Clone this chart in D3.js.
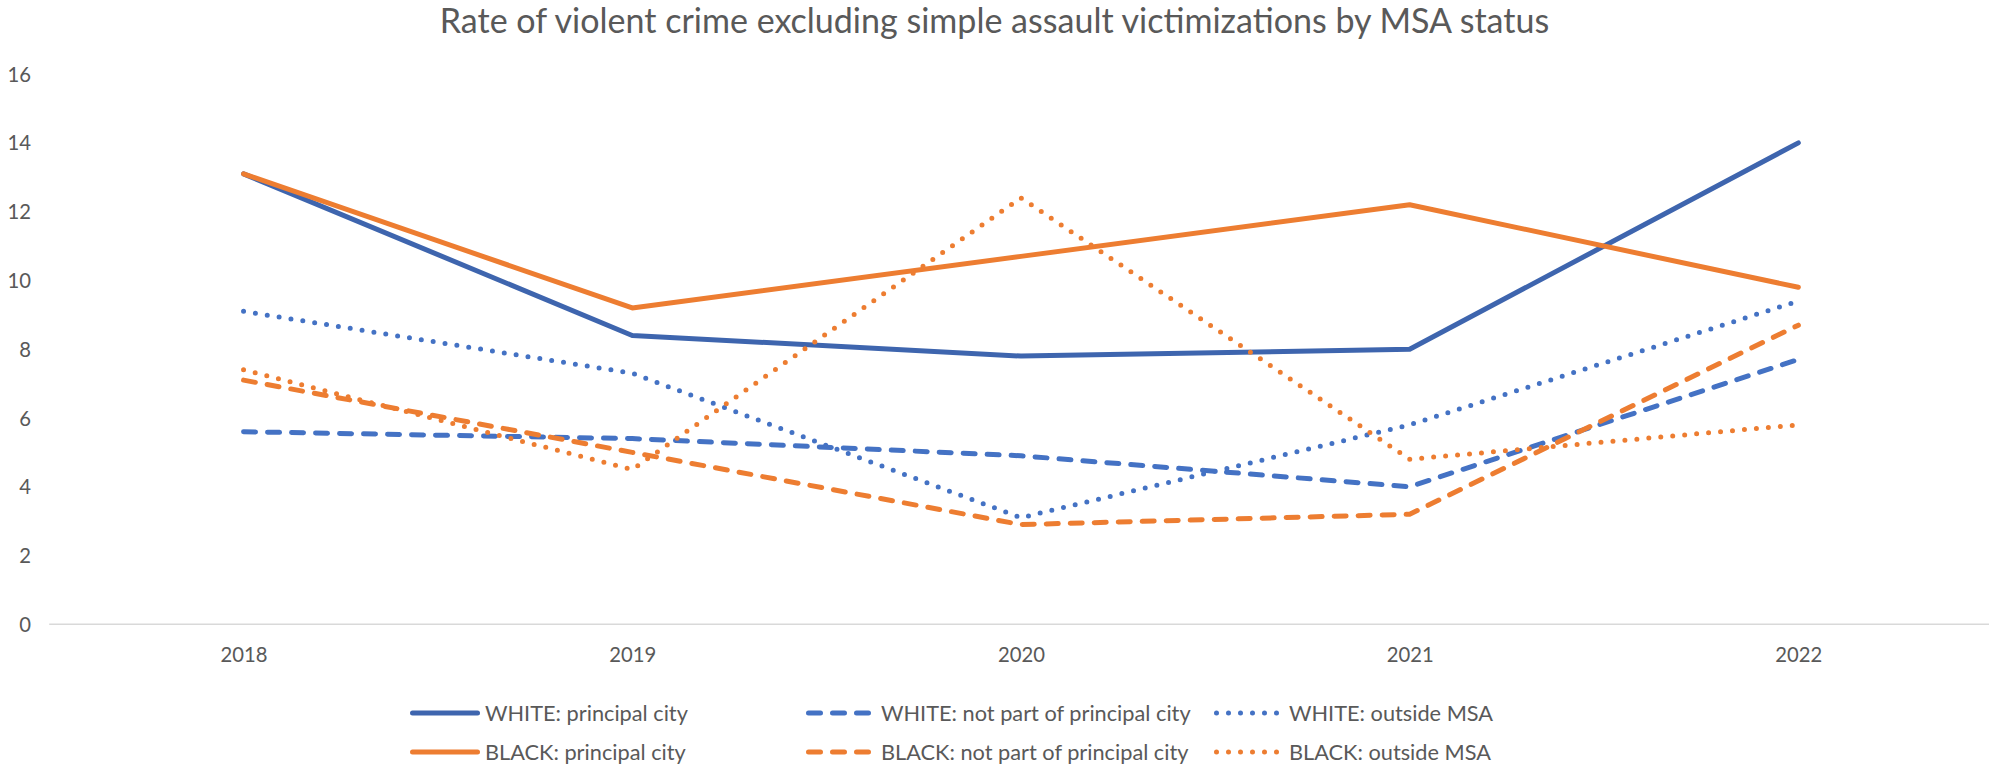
<!DOCTYPE html>
<html>
<head>
<meta charset="utf-8">
<script src="https://cdn.jsdelivr.net/npm/d3@7"></script>
<style>
  html, body { margin: 0; padding: 0; background: #ffffff; }
  svg { display: block; }
  text { font-family: Lato, "Open Sans", sans-serif; fill: #595959; }
</style>
</head>
<body>
<svg id="chart" width="1989" height="768"></svg>
<script>
// ---------- data ----------
const years = ["2018", "2019", "2020", "2021", "2022"];
const yTicks = [0, 2, 4, 6, 8, 10, 12, 14, 16];
const seriesNames = [
  "WHITE: principal city",
  "WHITE: not part of principal city",
  "WHITE: outside MSA",
  "BLACK: principal city",
  "BLACK: not part of principal city",
  "BLACK: outside MSA"
];
const whitePrincipal   = [13.1, 8.4, 7.8, 8.0, 14.0];
const whiteNotPart     = [5.6, 5.4, 4.9, 4.0, 7.7];
const whiteOutside     = [9.1, 7.3, 3.1, 5.8, 9.4];
const blackPrincipal   = [13.1, 9.2, 10.7, 12.2, 9.8];
const blackNotPart     = [7.1, 5.0, 2.9, 3.2, 8.7];
const blackOutside     = [7.4, 4.5, 12.4, 4.8, 5.8];
const titleText = "Rate of violent crime excluding simple assault victimizations by MSA status";

// ---------- styles ----------
const seriesValues = [whitePrincipal, whiteNotPart, whiteOutside, blackPrincipal, blackNotPart, blackOutside];
const styles = [
  { color: "#3E65AE", width: 5,   dash: null },
  { color: "#4472C4", width: 5,   dash: "12,12" },
  { color: "#4472C4", width: 5,   dash: "0,12" },
  { color: "#ED7D31", width: 5,   dash: null },
  { color: "#ED7D31", width: 5,   dash: "12,12" },
  { color: "#ED7D31", width: 5,   dash: "0,12" }
];

const svg = d3.select("#chart");
const W = 1989, H = 768;

// scales
const x = d3.scalePoint().domain(years).range([49.2, 1992.7]).padding(0.5);
const y = d3.scaleLinear().domain([0, 16]).range([624.3, 74.1]);

// helper to fit text width
function fitFont(sel, target) {
  const base = parseFloat(sel.style("font-size"));
  const w = sel.node().getComputedTextLength();
  return base * target / w;
}

// measure font sizes
const probe = svg.append("text").style("font-size", "24px").text("2018");
const tickFont = fitFont(probe, 47);
probe.style("font-size", "24px").text("WHITE: principal city");
const legendFont = fitFont(probe, 203);
probe.style("font-size", "30px").text(titleText);
const titleFont = fitFont(probe, 1110);
probe.remove();

// title
svg.append("text")
  .attr("x", W / 2)
  .attr("y", 33)
  .attr("text-anchor", "middle")
  .style("font-size", titleFont + "px")
  .text(titleText);

// baseline axis line
svg.append("line")
  .attr("x1", 49.2).attr("x2", 1992.7)
  .attr("y1", y(0)).attr("y2", y(0))
  .attr("stroke", "#D9D9D9").attr("stroke-width", 1.5);

// y axis labels
const yAxis = d3.axisLeft(y).tickValues(yTicks).tickSize(0).tickPadding(0);
const gy = svg.append("g").attr("transform", "translate(31,0)").call(yAxis);
gy.select(".domain").remove();
gy.selectAll("text")
  .attr("x", 0).attr("dy", "0.35em")
  .style("font-size", tickFont + "px")
  .style("font-family", "Lato, 'Open Sans', sans-serif")
  .attr("fill", "#595959");

// x axis labels
const xAxis = d3.axisBottom(x).tickSize(0).tickPadding(0);
const gx = svg.append("g").attr("transform", "translate(0,655)").call(xAxis);
gx.select(".domain").remove();
gx.selectAll("text")
  .attr("y", 0).attr("dy", "0.35em")
  .style("font-size", tickFont + "px")
  .style("font-family", "Lato, 'Open Sans', sans-serif")
  .attr("fill", "#595959");

// lines
const line = d3.line()
  .x((d, i) => x(years[i]))
  .y(d => y(d))
  .curve(d3.curveLinear);

seriesValues.forEach((vals, i) => {
  const s = styles[i];
  const p = svg.append("path")
    .datum(vals)
    .attr("d", line)
    .attr("fill", "none")
    .attr("stroke", s.color)
    .attr("stroke-width", s.width)
    .attr("stroke-linecap", "round")
    .attr("stroke-linejoin", "round");
  if (s.dash) p.attr("stroke-dasharray", s.dash);
});

// legend
const legendCols = [410, 806, 1214];
const legendRows = [713, 752];
seriesNames.forEach((name, i) => {
  const col = i % 3, row = Math.floor(i / 3);
  const lx = legendCols[col], ly = legendRows[row];
  const s = styles[i];
  const g = svg.append("g");
  const l = g.append("line")
    .attr("x1", lx + 2.5).attr("x2", lx + 67.5)
    .attr("y1", ly).attr("y2", ly)
    .attr("stroke", s.color)
    .attr("stroke-width", s.width)
    .attr("stroke-linecap", "round");
  if (s.dash) l.attr("stroke-dasharray", s.dash);
  g.append("text")
    .attr("x", lx + 75)
    .attr("y", ly)
    .attr("dy", "0.35em")
    .style("font-size", legendFont + "px")
    .text(name);
});
</script>
</body>
</html>
